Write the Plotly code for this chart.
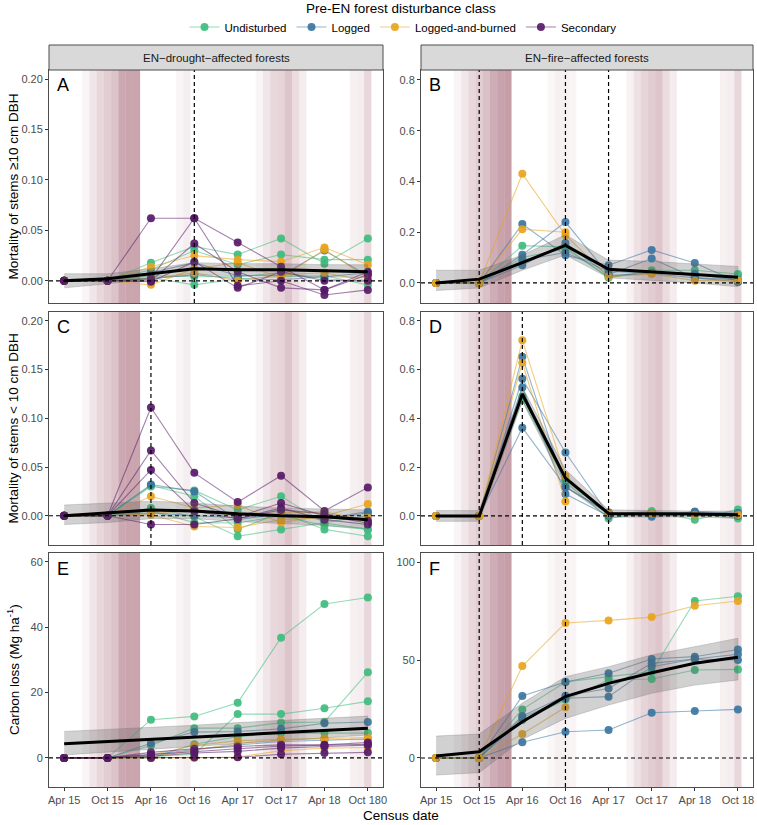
import plotly.graph_objects as go

# --- census dates (months since Apr 2015) ---
census_months = [0, 6, 12, 18, 24, 30, 36, 42]
census_labels = ["Apr 15", "Oct 15", "Apr 16", "Oct 16", "Apr 17", "Oct 17", "Apr 18", "Oct 18"]
census_labels_left = ["Apr 15", "Oct 15", "Apr 16", "Oct 16", "Apr 17", "Oct 17", "Apr 18", "Oct 180"]

classes = ["Undisturbed", "Logged", "Logged-and-burned", "Secondary"]
class_colors = {"Undisturbed": "62,188,126", "Logged": "58,118,160",
                "Logged-and-burned": "232,164,28", "Secondary": "87,26,104"}

# --- Panel A: mortality stems >=10 cm, drought ---
A_undisturbed = [[0, 0, 0.018, 0.034, 0.026, 0.042, 0.017, 0.042],
                 [0, 0, 0.011, 0.030, 0.016, 0.026, 0.021, 0.021],
                 [0, 0, 0.005, 0.004, 0.004, 0.008, 0.002, -0.001],
                 [0, 0, 0.003, -0.004, 0.002, 0.004, 0.005, -0.004]]
A_logged = [[0, 0, 0.008, 0.018, 0.005, 0.005, 0.030, 0.005],
            [0, 0, 0.002, 0.006, 0.002, 0.001, 0.004, 0.008]]
A_logged_burned = [[0, 0, 0.014, 0.025, 0.021, 0.019, 0.033, 0.016],
                   [0, 0, -0.004, 0.012, 0.018, 0.003, 0.031, 0.003],
                   [0, 0, 0.002, 0.008, 0.000, 0.006, 0.008, 0.000]]
A_secondary = [[0, 0, 0.062, 0.062, 0.038, 0.014, -0.009, 0.009],
               [0, 0, 0.002, 0.062, -0.005, 0.000, -0.014, -0.009],
               [0, 0, 0.000, 0.037, 0.009, -0.007, -0.009, 0.006],
               [0, 0, -0.001, 0.019, -0.007, 0.009, 0.000, 0.000]]
A_mean = [0.0, 0.002, 0.007, 0.012, 0.011, 0.011, 0.010, 0.009]
A_upper = [0.007, 0.007, 0.012, 0.018, 0.017, 0.017, 0.016, 0.016]
A_lower = [-0.007, -0.003, 0.002, 0.006, 0.005, 0.005, 0.004, 0.003]

# --- Panel B: mortality stems >=10 cm, fire ---
B_undisturbed = [[0, 0, 0.147, 0.142, 0.020, 0.050, 0.050, 0.035],
                 [0, 0, 0.100, 0.135, 0.025, 0.040, 0.030, 0.030]]
B_logged = [[0, 0, 0.232, 0.109, 0.070, 0.130, 0.079, 0.004],
            [0, 0, 0.111, 0.240, 0.033, 0.096, 0.020, 0.013],
            [0, 0, 0.070, 0.157, 0.030, 0.037, 0.020, 0.005],
            [0, 0, 0.090, 0.120, 0.045, 0.040, 0.035, 0.010]]
B_logged_burned = [[0, 0, 0.430, 0.188, 0.025, 0.035, 0.009, 0.010],
                   [0, 0, 0.212, 0.200, None, None, None, None]]
B_mean = [0.0, 0.015, 0.080, 0.148, 0.054, 0.045, 0.033, 0.022]
B_upper = [0.050, 0.050, 0.110, 0.190, 0.090, 0.085, 0.075, 0.065]
B_lower = [-0.030, -0.020, 0.050, 0.110, 0.020, 0.010, 0.000, -0.015]

# --- Panel C: mortality stems <10 cm, drought ---
C_undisturbed = [[0, 0, 0.030, 0.026, 0.006, 0.020, -0.0075, -0.014],
                 [0, 0, 0.031, 0.020, -0.014, 0.003, -0.014, -0.021],
                 [0, 0, 0.008, -0.001, -0.021, -0.014, -0.0075, 0.000],
                 [0, 0, 0.005, -0.007, -0.0075, 0.000, -0.010, -0.014]]
C_logged = [[0, 0, 0.032, 0.025, -0.004, 0.002, -0.003, 0.0044],
            [0, 0, 0.003, 0.000, -0.002, 0.001, -0.004, 0.003]]
C_logged_burned = [[0, 0, 0.020, 0.008, 0.011, -0.007, 0.000, 0.012],
                   [0, 0, 0.001, -0.011, -0.012, -0.004, -0.002, -0.002],
                   [0, 0, 0.002, 0.006, 0.000, 0.003, 0.004, -0.005]]
C_secondary = [[0, 0, 0.111, 0.044, 0.014, 0.041, 0.005, 0.029],
               [0, 0, 0.067, 0.013, -0.001, 0.013, 0.000, -0.0075],
               [0, 0, 0.047, 0.005, -0.003, 0.006, 0.002, -0.005],
               [0, 0, -0.009, -0.009, -0.003, 0.008, -0.004, -0.009]]
C_mean = [0.0, 0.003, 0.006, 0.005, 0.002, 0.000, -0.001, -0.004]
C_upper = [0.011, 0.013, 0.015, 0.013, 0.010, 0.008, 0.007, 0.006]
C_lower = [-0.009, -0.007, -0.003, -0.003, -0.006, -0.008, -0.010, -0.013]

# --- Panel D: mortality stems <10 cm, fire ---
D_undisturbed = [[0, 0, 0.475, 0.147, 0.005, 0.020, -0.016, 0.027],
                 [0, 0, 0.490, 0.140, -0.010, 0.015, 0.010, -0.010]]
D_logged = [[0, 0, 0.653, 0.117, 0.015, -0.003, 0.018, 0.011],
            [0, 0, 0.5625, 0.260, 0.005, 0.010, 0.015, 0.005],
            [0, 0, 0.527, 0.090, 0.000, 0.005, 0.005, 0.000],
            [0, 0, 0.362, 0.120, 0.010, 0.008, 0.010, 0.012]]
D_logged_burned = [[0, 0, 0.720, 0.164, 0.010, 0.010, 0.005, 0.005],
                   [0, 0, 0.628, 0.059, None, None, None, None]]
D_mean = [0.0, 0.0, 0.500, 0.155, 0.010, 0.010, 0.008, 0.005]
D_upper = [0.022, 0.022, 0.530, 0.190, 0.025, 0.022, 0.020, 0.020]
D_lower = [-0.022, -0.022, 0.470, 0.120, -0.005, -0.003, -0.004, -0.010]

# --- Panel E: carbon loss, drought ---
E_undisturbed = [[0, 0, 11.7, 12.7, 16.9, 36.8, 47.1, 49.1],
                 [0, 0, 3.8, 9.1, 9.1, 10.8, 11.0, 26.2],
                 [0, 0, 0.4, 1.1, 13.4, 13.4, 15.2, 17.3],
                 [0, 0, 0.0, 4.2, 6.5, 7.6, 7.6, 7.6]]
E_logged = [[0, 0, 4.5, 7.9, 8.1, 8.9, 10.6, 11.0],
            [0, 0, 1.0, 2.5, 4.0, 5.0, 5.5, 5.8]]
E_logged_burned = [[0, 0, 0.9, 3.8, 5.3, 5.7, 6.0, 6.2],
                   [0, 0, 0.0, 0.0, 0.3, 2.2, 3.0, 3.2],
                   [0, 0, 0.3, 2.5, 4.5, 5.5, 5.8, 5.7]]
E_secondary = [[0, 0, 1.7, 2.8, 3.5, 4.0, 4.0, 4.7],
               [0, 0, 0.0, 0.2, 0.2, 1.1, 1.5, 1.7],
               [0, 0, 1.0, 2.0, 2.8, 3.6, 3.8, 4.2],
               [0, 0, 0.5, 1.5, 2.0, 3.0, 3.5, 3.9]]
E_mean = [4.3, 5.0, 5.7, 6.4, 7.1, 7.8, 8.4, 9.1]
E_upper = [8.1, 8.7, 9.4, 10.0, 10.8, 11.4, 12.1, 12.8]
E_lower = [0.9, 1.7, 2.6, 3.4, 4.4, 5.2, 6.1, 7.0]

# --- Panel F: carbon loss, fire ---
F_undisturbed = [[0, 0, 24.8, 38.8, 41.5, 44.0, 80.1, 82.5],
                 [0, 0, 19.4, 29.8, 39.8, 40.3, 44.9, 45.2]]
F_logged = [[0, 0, 31.6, 38.8, 43.2, 50.5, 51.7, 55.4],
            [0, 0, 21.4, 31.8, 35.5, 48.3, 50.5, 52.9],
            [0, 0, 8.0, 13.4, 14.3, 23.1, 24.0, 24.8],
            [0, 0, 20.5, 30.5, 31.3, 46.6, 50.5, 50.0]]
F_logged_burned = [[0, 0, 46.9, 68.9, 70.2, 71.9, 77.7, 80.1],
                   [0, 0, 12.2, 25.9, None, None, None, None]]
F_mean = [1.0, 3.2, 18.5, 31.3, 38.1, 43.5, 48.3, 51.4]
F_upper = [11.2, 12.2, 28.0, 41.5, 46.6, 52.6, 56.8, 61.1]
F_lower = [-8.7, -7.5, 9.5, 20.2, 27.0, 33.0, 37.2, 39.8]

# --- shaded monthly bands (start month, opacity) ---
drought_band_start = [2.5, 3.5, 4.5, 5.5, 6.5, 7.5, 8.5, 9.5, 15.5, 16.5,
                      26.5, 27.5, 28.5, 29.5, 30.5, 31.5, 32.5, 39.5, 40.5, 41.5]
drought_band_alpha = [0.05, 0.12, 0.18, 0.23, 0.28, 0.40, 0.42, 0.42, 0.05, 0.08,
                      0.05, 0.12, 0.18, 0.20, 0.27, 0.16, 0.09, 0.07, 0.08, 0.18]
fire_band_start = [2.5, 3.5, 4.5, 5.5, 6.5, 7.5, 8.5, 9.5, 15.5, 16.5, 17.5, 18.5,
                   26.5, 27.5, 28.5, 29.5, 30.5, 31.5, 32.5, 39.5, 40.5, 41.5]
fire_band_alpha = [0.05, 0.11, 0.18, 0.23, 0.29, 0.38, 0.43, 0.45, 0.04, 0.07, 0.07, 0.05,
                   0.06, 0.14, 0.20, 0.23, 0.27, 0.16, 0.09, 0.07, 0.08, 0.18]

# dashed lines marking census after EN
A_vlines = [18]
B_vlines = [6, 18, 24]
C_vlines = [12]
D_vlines = [6, 12, 18, 24]
E_vlines = []
F_vlines = [6, 18]

W, H = 757, 825

def xd(a, b):
    return [a / W, b / W]

def yd(top, bottom):
    return [1 - bottom / H, 1 - top / H]

def px(x):
    return x / W

def py(y):
    return 1 - y / H

left_x, right_x = (49, 383), (421, 753)
rows = [(70, 303), (312, 545), (553, 787)]

panels = [
    dict(name="A", col=left_x, row=rows[0], yr=[-0.022, 0.209], tv=[0, 0.05, 0.1, 0.15, 0.2], fmt=".2f",
         series=[A_undisturbed, A_logged, A_logged_burned, A_secondary], mean=A_mean, up=A_upper, lo=A_lower,
         vl=A_vlines, bands="d"),
    dict(name="B", col=right_x, row=rows[0], yr=[-0.079, 0.839], tv=[0, 0.2, 0.4, 0.6, 0.8], fmt=".1f",
         series=[B_undisturbed, B_logged, B_logged_burned, []], mean=B_mean, up=B_upper, lo=B_lower,
         vl=B_vlines, bands="f"),
    dict(name="C", col=left_x, row=rows[1], yr=[-0.030, 0.209], tv=[0, 0.05, 0.1, 0.15, 0.2], fmt=".2f",
         series=[C_undisturbed, C_logged, C_logged_burned, C_secondary], mean=C_mean, up=C_upper, lo=C_lower,
         vl=C_vlines, bands="d"),
    dict(name="D", col=right_x, row=rows[1], yr=[-0.119, 0.836], tv=[0, 0.2, 0.4, 0.6, 0.8], fmt=".1f",
         series=[D_undisturbed, D_logged, D_logged_burned, []], mean=D_mean, up=D_upper, lo=D_lower,
         vl=D_vlines, bands="f"),
    dict(name="E", col=left_x, row=rows[2], yr=[-8.9, 62.7], tv=[0, 20, 40, 60], fmt="d",
         series=[E_undisturbed, E_logged, E_logged_burned, E_secondary], mean=E_mean, up=E_upper, lo=E_lower,
         vl=E_vlines, bands="d"),
    dict(name="F", col=right_x, row=rows[2], yr=[-14.8, 104.6], tv=[0, 50, 100], fmt="d",
         series=[F_undisturbed, F_logged, F_logged_burned, []], mean=F_mean, up=F_upper, lo=F_lower,
         vl=F_vlines, bands="f"),
]

fig = go.Figure()
shapes, annotations = [], []
FONT = "Liberation Sans, Arial, sans-serif"
tick_font = dict(family=FONT, size=11, color="#4D4D4D")

for i, p in enumerate(panels, start=1):
    xa, ya = f"x{i}" if i > 1 else "x", f"y{i}" if i > 1 else "y"
    # individual plots
    for cls, group in zip(classes, p["series"]):
        rgb = class_colors[cls]
        for vals in group:
            fig.add_trace(go.Scatter(
                x=census_months, y=vals, mode="lines+markers", xaxis=xa, yaxis=ya,
                line=dict(color=f"rgba({rgb},0.55)", width=1.1),
                marker=dict(color=f"rgba({rgb},0.92)", size=8),
                showlegend=False, hoverinfo="skip"))
    # ribbon
    fig.add_trace(go.Scatter(
        x=census_months + census_months[::-1], y=p["up"] + p["lo"][::-1], xaxis=xa, yaxis=ya,
        fill="toself", fillcolor="rgba(90,90,90,0.28)", mode="lines",
        line=dict(color="rgba(110,110,110,0.35)", width=0.8), showlegend=False, hoverinfo="skip"))
    # mean
    fig.add_trace(go.Scatter(
        x=census_months, y=p["mean"], mode="lines", xaxis=xa, yaxis=ya,
        line=dict(color="black", width=3), showlegend=False))

    # bands
    starts = drought_band_start if p["bands"] == "d" else fire_band_start
    alphas = drought_band_alpha if p["bands"] == "d" else fire_band_alpha
    for s, a in zip(starts, alphas):
        shapes.append(dict(type="rect", xref=xa, yref=f"{ya} domain", x0=s, x1=s + 1, y0=0, y1=1,
                           fillcolor=f"rgba(128,40,62,{a})", line=dict(width=0), layer="below"))
    for v in p["vl"]:
        shapes.append(dict(type="line", xref=xa, yref=f"{ya} domain", x0=v, x1=v, y0=0, y1=1,
                           line=dict(color="black", width=1.2, dash="4px,3px")))
    shapes.append(dict(type="line", xref=f"{xa} domain", yref=ya, x0=0, x1=1, y0=0, y1=0,
                       line=dict(color="black", width=1.2, dash="4px,3px")))

    bottom = p["name"] in ("E", "F")
    labels = census_labels_left if p["name"] == "E" else census_labels
    xkey = "xaxis" if i == 1 else f"xaxis{i}"
    ykey = "yaxis" if i == 1 else f"yaxis{i}"
    fig.layout[xkey] = dict(domain=xd(*p["col"]), anchor=ya, range=[-2.1, 44.1],
                            tickvals=census_months, ticktext=labels, showticklabels=bottom,
                            ticks="outside" if bottom else "", ticklen=3, tickcolor="#333333",
                            tickfont=tick_font, showgrid=False, zeroline=False, automargin=False,
                            showline=True, mirror=True, linecolor="#4D4D4D", linewidth=1)
    fig.layout[ykey] = dict(domain=yd(*p["row"]), anchor=xa, range=p["yr"], tickvals=p["tv"],
                            tickformat=p["fmt"], ticks="outside", ticklen=3, tickcolor="#333333",
                            tickfont=tick_font, showgrid=False, zeroline=False, automargin=False,
                            showline=True, mirror=True, linecolor="#4D4D4D", linewidth=1)
    annotations.append(dict(text=p["name"], xref=f"{xa} domain", yref=f"{ya} domain", x=0.018, y=0.985,
                            xanchor="left", yanchor="top", showarrow=False,
                            font=dict(family=FONT, size=18, color="black")))

# legend entries
for cls in classes:
    rgb = class_colors[cls]
    fig.add_trace(go.Scatter(x=[None], y=[None], mode="lines+markers", name=cls,
                             line=dict(color=f"rgba({rgb},0.55)", width=1.1),
                             marker=dict(color=f"rgba({rgb},0.92)", size=8)))

# facet strips
for (a, b), label in [(left_x, "EN\u2212drought\u2212affected forests"), (right_x, "EN\u2212fire\u2212affected forests")]:
    shapes.append(dict(type="rect", xref="paper", yref="paper", x0=px(a), x1=px(b),
                       y0=py(70), y1=py(45), fillcolor="#D9D9D9",
                       line=dict(color="#4D4D4D", width=1)))
    annotations.append(dict(text=label, xref="paper", yref="paper", x=px((a + b) / 2), y=py(57.5),
                            xanchor="center", yanchor="middle", showarrow=False,
                            font=dict(family=FONT, size=11.5, color="#1A1A1A")))

title_font = dict(family=FONT, size=13.5, color="black")
for text, (top, bottom) in [("Mortality of stems \u226510 cm DBH", rows[0]),
                            ("Mortality of stems < 10 cm DBH", rows[1]),
                            ("Carbon loss (Mg ha<sup>-1</sup>)", rows[2])]:
    annotations.append(dict(text=text, xref="paper", yref="paper", x=px(13), y=py((top + bottom) / 2),
                            xanchor="center", yanchor="middle", textangle=-90, showarrow=False,
                            font=title_font))
annotations.append(dict(text="Census date", xref="paper", yref="paper", x=px(401), y=py(815),
                        xanchor="center", yanchor="middle", showarrow=False, font=title_font))
annotations.append(dict(text="Pre-EN forest disturbance class", xref="paper", yref="paper",
                        x=px(401), y=py(9), xanchor="center", yanchor="middle", showarrow=False,
                        font=title_font))

fig.update_layout(
    width=W, height=H, margin=dict(l=0, r=0, t=0, b=0, autoexpand=False),
    paper_bgcolor="white", plot_bgcolor="white",
    font=dict(family=FONT),
    shapes=shapes, annotations=annotations,
    legend=dict(orientation="h", x=px(403), xanchor="center", y=py(27), yanchor="middle",
                font=dict(family=FONT, size=11.5, color="black"),
                itemwidth=30, bgcolor="rgba(0,0,0,0)", tracegroupgap=0),
)

# the default page body has an 8px margin; drop it so the figure fills the window exactly
fig.write_html("out.html", config={"displayModeBar": False},
               post_script="document.body.style.margin='0px';")
